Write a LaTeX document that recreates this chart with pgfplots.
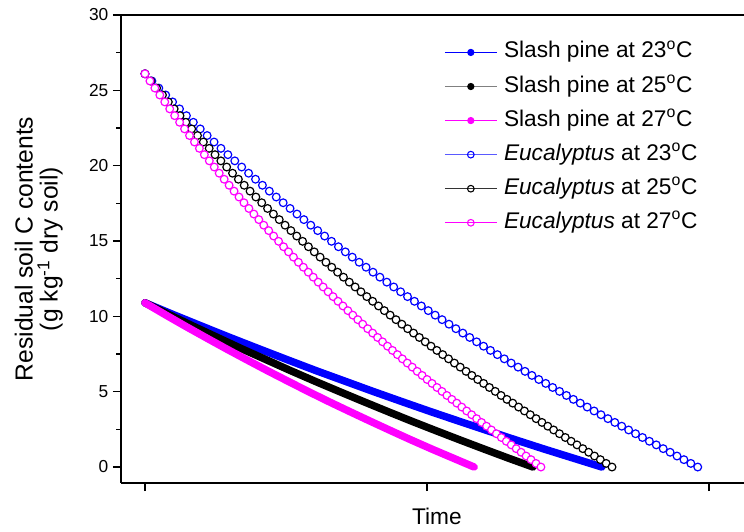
\documentclass[border=0pt]{standalone}
\usepackage{fontspec}
\setmainfont{Liberation Sans}
\usepackage{pgfplots}
\pgfplotsset{compat=1.18}
\usepackage{pgfplotstable}
\definecolor{mag}{RGB}{255,0,255}
\definecolor{blu}{RGB}{0,0,255}
\definecolor{lblu}{RGB}{90,90,255}

\pgfplotstableread{
x23 x25 x27 y
0 0 0 26.10
2.45 2.07 1.755 25.62
4.9 4.14 3.51 25.15
7.35 6.21 5.265 24.69
9.8 8.28 7.02 24.23
12.25 10.35 8.775 23.77
14.7 12.42 10.53 23.32
17.15 14.49 12.285 22.88
19.6 16.56 14.04 22.44
22.05 18.63 15.795 22.00
24.5 20.7 17.55 21.57
26.95 22.77 19.305 21.15
29.4 24.84 21.06 20.73
31.85 26.91 22.815 20.32
34.3 28.98 24.57 19.91
36.75 31.05 26.325 19.50
39.2 33.12 28.08 19.10
41.65 35.19 29.835 18.70
44.1 37.26 31.59 18.31
46.55 39.33 33.345 17.92
49 41.4 35.1 17.54
51.45 43.47 36.855 17.16
53.9 45.54 38.61 16.79
56.35 47.61 40.365 16.42
58.8 49.68 42.12 16.05
61.25 51.75 43.875 15.69
63.7 53.82 45.63 15.33
66.15 55.89 47.385 14.98
68.6 57.96 49.14 14.62
71.05 60.03 50.895 14.28
73.5 62.1 52.65 13.93
75.95 64.17 54.405 13.59
78.4 66.24 56.16 13.26
80.85 68.31 57.915 12.93
83.3 70.38 59.67 12.60
85.75 72.45 61.425 12.27
88.2 74.52 63.18 11.95
90.65 76.59 64.935 11.63
93.1 78.66 66.69 11.31
95.55 80.73 68.445 11.00
98 82.8 70.2 10.69
100.45 84.87 71.955 10.38
102.9 86.94 73.71 10.08
105.35 89.01 75.465 9.78
107.8 91.08 77.22 9.48
110.25 93.15 78.975 9.18
112.7 95.22 80.73 8.89
115.15 97.29 82.485 8.60
117.6 99.36 84.24 8.31
120.05 101.43 85.995 8.02
122.5 103.5 87.75 7.74
124.95 105.57 89.505 7.46
127.4 107.64 91.26 7.18
129.85 109.71 93.015 6.90
132.3 111.78 94.77 6.63
134.75 113.85 96.525 6.35
137.2 115.92 98.28 6.08
139.65 117.99 100.035 5.81
142.1 120.06 101.79 5.55
144.55 122.13 103.545 5.28
147 124.2 105.3 5.02
149.45 126.27 107.055 4.75
151.9 128.34 108.81 4.49
154.35 130.41 110.565 4.24
156.8 132.48 112.32 3.98
159.25 134.55 114.075 3.72
161.7 136.62 115.83 3.47
164.15 138.69 117.585 3.21
166.6 140.76 119.34 2.96
169.05 142.83 121.095 2.71
171.5 144.9 122.85 2.46
173.95 146.97 124.605 2.21
176.4 149.04 126.36 1.96
178.85 151.11 128.115 1.71
181.3 153.18 129.87 1.47
183.75 155.25 131.625 1.22
186.2 157.32 133.38 0.98
188.65 159.39 135.135 0.73
191.1 161.46 136.89 0.49
193.55 163.53 138.645 0.24
196 165.6 140.4 0.00
}\euctab

\pgfplotstableread{
x23 x25 x27 y23 y25 y27
0 0 0 10.90 10.90 10.90
10.125 8.6 7.29 10.11 10.11 10.10
20.25 17.2 14.59 9.34 9.34 9.32
30.375 25.8 21.88 8.58 8.59 8.56
40.5 34.4 29.18 7.84 7.84 7.81
50.625 43 36.47 7.11 7.12 7.08
60.75 51.6 43.76 6.39 6.40 6.36
70.875 60.2 51.06 5.70 5.70 5.66
81 68.8 58.35 5.01 5.02 4.97
91.125 77.4 65.64 4.34 4.35 4.30
101.25 86 72.94 3.68 3.69 3.65
111.375 94.6 80.23 3.04 3.04 3.01
121.5 103.2 87.53 2.41 2.41 2.38
131.625 111.8 94.82 1.79 1.79 1.76
141.75 120.4 102.11 1.18 1.18 1.16
151.875 129 109.41 0.59 0.58 0.58
162 137.6 116.7 0.00 0.00 0.00
}\pinetab

\begin{document}
\begin{tikzpicture}
\useasboundingbox (-90.75pt,-36.75pt) rectangle (467.25pt,362.25pt);
\begin{axis}[
  scale only axis, width=467.25pt, height=351pt,
  at={(0pt,0pt)}, anchor=south west,
  xmin=-8.5, xmax=212.4, ymin=-1.06, ymax=30,
  axis x line=box, axis y line=left,
  axis line style={-, line width=1.2pt, black},
  xtick={0,100,200}, xticklabels={}, xtick pos=bottom,
  ytick={0,5,10,15,20,25,30}, minor y tick num=1,
  tick align=outside, major tick length=6pt, minor tick length=3.5pt,
  tick style={line width=1.2pt, black},
  /pgf/number format/assume math mode=true,
  y tick label style={font=\fontsize{13}{15}\selectfont},
  xlabel={Time},
  xlabel style={font=\fontsize{17}{20}\selectfont, at={(axis description cs:0.507,-0.0897)}, anchor=base},
  ylabel={Residual soil C contents\\(g kg\textsuperscript{-1} dry soil)},
  ylabel style={align=center, font=\fontsize{18.5}{18.75}\selectfont, at={(axis description cs:-0.132,0.5)}, anchor=center},
  legend style={at={(axis description cs:0.5185,0.943)}, anchor=north west, draw=none, fill=none,
    font=\fontsize{17}{20}\selectfont, row sep=9.8pt, inner sep=0pt,
    nodes={inner sep=0pt, text height=12pt, text depth=3.75pt}},
  legend cell align=left,
  legend image code/.code={\draw[mark repeat=2,mark phase=2,#1] plot coordinates {(0pt,0pt) (19.5pt,0pt) (39pt,0pt)}; \path (44pt,0pt);},
]
\addlegendimage{blu, line width=0.8pt, mark=*, mark size=2.3pt, mark options={solid, fill=blu}}
\addlegendentry{Slash pine at 23\textsuperscript{o}C}
\addlegendimage{black!50, line width=0.8pt, mark=*, mark size=2.3pt, mark options={solid, black, fill=black}}
\addlegendentry{Slash pine at 25\textsuperscript{o}C}
\addlegendimage{mag, line width=0.8pt, mark=*, mark size=2.3pt, mark options={solid, fill=mag}}
\addlegendentry{Slash pine at 27\textsuperscript{o}C}
\addlegendimage{lblu, line width=0.8pt, mark=o, mark size=2.5pt, mark options={solid, blu, fill=white}}
\addlegendentry{\textit{Eucalyptus} at 23\textsuperscript{o}C}
\addlegendimage{black!80, line width=0.8pt, mark=o, mark size=2.5pt, mark options={solid, black, fill=white}}
\addlegendentry{\textit{Eucalyptus} at 25\textsuperscript{o}C}
\addlegendimage{mag, line width=0.8pt, mark=o, mark size=2.5pt, mark options={solid, mag, fill=white}}
\addlegendentry{\textit{Eucalyptus} at 27\textsuperscript{o}C}

\addplot[forget plot, blu, line width=5.6pt, line cap=round, line join=round, no markers] table[x=x23, y=y23] {\pinetab};
\addplot[forget plot, black, line width=5.6pt, line cap=round, line join=round, no markers] table[x=x25, y=y25] {\pinetab};
\addplot[forget plot, mag, line width=5.6pt, line cap=round, line join=round, no markers] table[x=x27, y=y27] {\pinetab};
\addplot[forget plot, blu, only marks, mark=*, mark size=2.9pt, mark options={line width=0.9pt, draw=blu, fill=white}] table[x=x23, y=y] {\euctab};
\addplot[forget plot, black, only marks, mark=*, mark size=2.9pt, mark options={line width=0.9pt, draw=black, fill=white}] table[x=x25, y=y] {\euctab};
\addplot[forget plot, mag, only marks, mark=*, mark size=2.9pt, mark options={line width=0.9pt, draw=mag, fill=white}] table[x=x27, y=y] {\euctab};
\end{axis}
\end{tikzpicture}
\end{document}
